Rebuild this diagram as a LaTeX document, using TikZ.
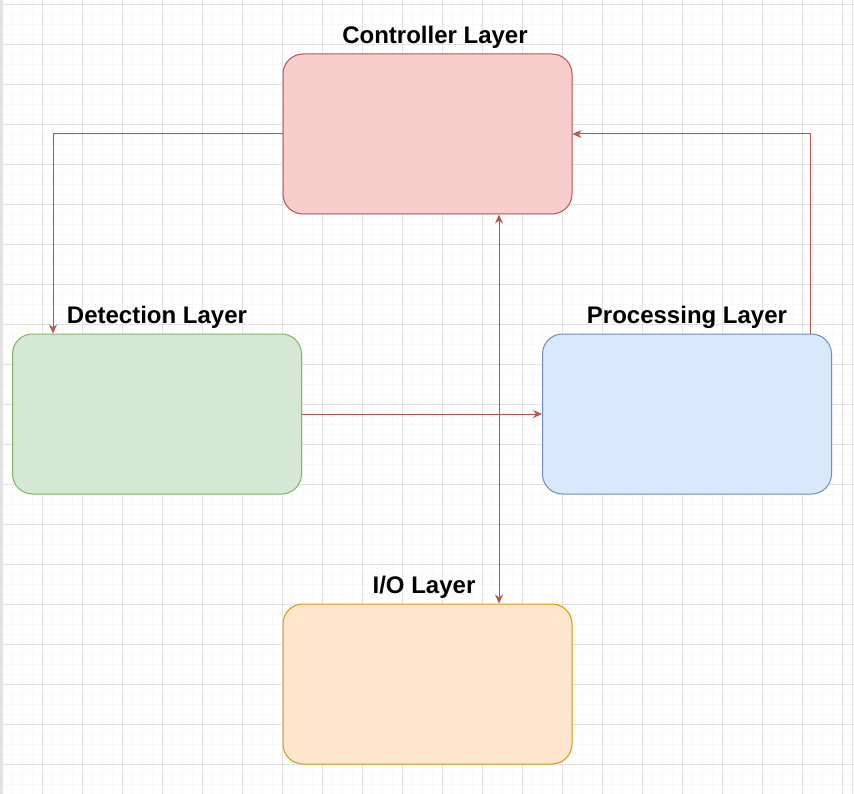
\documentclass[tikz,border=0pt]{standalone}
\usepackage{fontspec}
\setmainfont{Liberation Sans}
\usetikzlibrary{arrows.meta}
\definecolor{redfill}{HTML}{F8CECC}\definecolor{redline}{HTML}{B85450}
\definecolor{greenfill}{HTML}{D5E8D4}\definecolor{greenline}{HTML}{82B366}
\definecolor{bluefill}{HTML}{DAE8FC}\definecolor{blueline}{HTML}{6C8EBF}
\definecolor{orangefill}{HTML}{FFE6CC}\definecolor{orangeline}{HTML}{D79B00}
\definecolor{gridmajor}{HTML}{E2E2E2}\definecolor{gridminor}{HTML}{F8F8F8}
\tikzset{
  layerbox/.style={draw, line width=1pt, rounded corners=20pt, minimum width=289pt, minimum height=160pt, inner sep=0pt},
  layertitle/.style={font=\fontsize{24}{28}\selectfont\bfseries, inner sep=0pt},
  arr/.style={draw=redline, line width=1pt, -{Stealth[length=9pt,width=8pt]}},
  arrtwo/.style={draw=redline, line width=1pt, {Stealth[length=9pt,width=8pt]}-{Stealth[length=9pt,width=8pt]}},
}
\begin{document}
\begin{tikzpicture}[x=1pt,y=-1pt]
\useasboundingbox (0,0) rectangle (854,794);
\fill[white] (0,0) rectangle (854,794);
% minor grid
\foreach \i in {0,...,85} {\draw[gridminor, line width=0.8pt] ({2.5+10*\i},0) -- ({2.5+10*\i},794);}
\foreach \j in {0,...,79} {\draw[gridminor, line width=0.8pt] (0,{4.3+10*\j}) -- (854,{4.3+10*\j});}
% major grid
\foreach \i in {0,...,21} {\draw[gridmajor, line width=0.8pt] ({2.5+40*\i},0) -- ({2.5+40*\i},794);}
\foreach \j in {0,...,19} {\draw[gridmajor, line width=0.8pt] (0,{4.3+40*\j}) -- (854,{4.3+40*\j});}
\draw[gridmajor, line width=1.5pt] (1,0) -- (1,794);
\draw[gridmajor, line width=1.5pt] (852.5,0) -- (852.5,794);
% boxes
\node[layerbox, fill=redfill, draw=redline] (ctrl) at (427.5,134) {};
\node[layerbox, fill=greenfill, draw=greenline] (det) at (157,414) {};
\node[layerbox, fill=bluefill, draw=blueline] (proc) at (687,414) {};
\node[layerbox, fill=orangefill, draw=orangeline] (io) at (427.5,684) {};
% titles
\node[layertitle] (ctrlt) at (435,37) {Controller Layer};
\node[layertitle] (dett) at (157,317) {Detection Layer};
\node[layertitle] (proct) at (687,317) {Processing Layer};
\node[layertitle] (iot) at (424,587) {I/O Layer};
% connectors
\draw[arr] (ctrl.west) -| ([xshift=41pt]det.north west);
\draw[arr] (det.east) -- (proc.west);
\draw[arr] ([xshift=-22pt]proc.north east) |- (ctrl.east);
\draw[arrtwo] ([xshift=71.5pt]ctrl.south) -- ([xshift=71.5pt]io.north);
\end{tikzpicture}
\end{document}
